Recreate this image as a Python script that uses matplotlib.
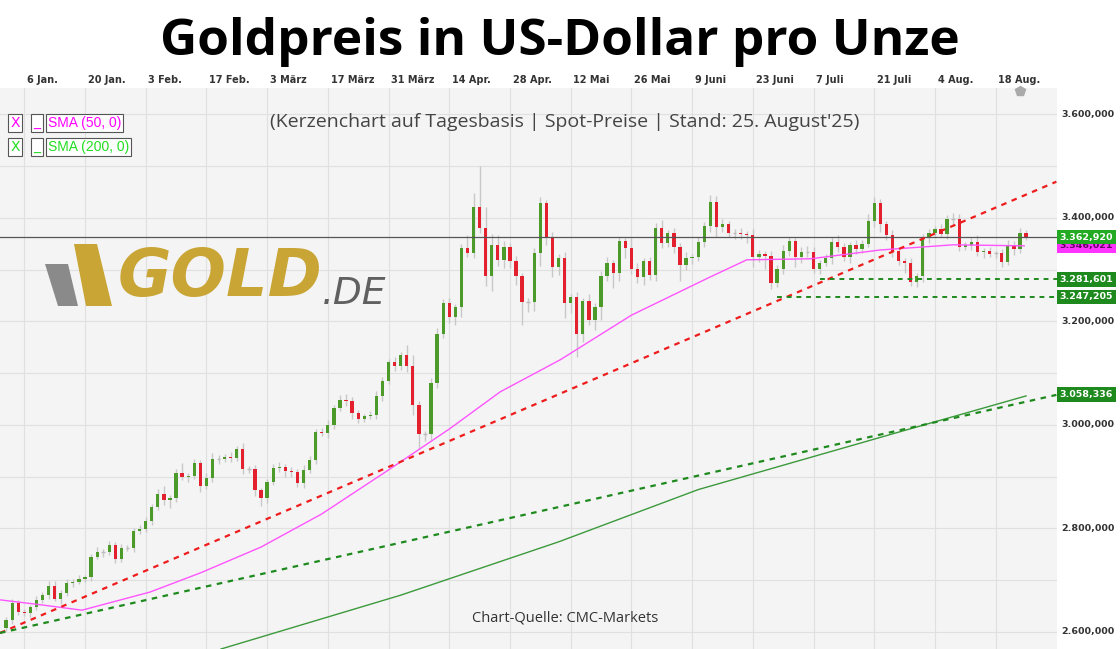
import matplotlib.pyplot as plt
from matplotlib.patches import Polygon, Rectangle
import numpy as np

# daily closes, weekdays 1 Jan - 25 Aug 2025
closes = [
    # Jan
    2623, 2656, 2638, 2636, 2648, 2662, 2672, 2689, 2664, 2675, 2695, 2697,
    2702, 2706, 2745, 2755, 2755, 2768, 2741, 2762, 2762, 2795, 2799,
    # Feb
    2814, 2842, 2867, 2855, 2859, 2907, 2899, 2901, 2927, 2882, 2898, 2934,
    2934, 2938, 2936, 2953, 2915, 2915, 2874, 2859,
    # Mar
    2890, 2917, 2919, 2911, 2909, 2888, 2913, 2932, 2986, 2984, 3000, 3033,
    3048, 3046, 3023, 3011, 3017, 3019, 3056, 3085, 3122,
    # Apr
    3114, 3135, 3114, 3039, 2983, 2983, 3081, 3176, 3236, 3209, 3228, 3342,
    3332, 3421, 3381, 3288, 3348, 3319, 3344, 3317, 3288, 3238,
    # May
    3238, 3332, 3429, 3363, 3305, 3323, 3236, 3247, 3176, 3240, 3203, 3228,
    3288, 3313, 3294, 3356, 3342, 3301, 3286, 3317, 3290, 3381,
    # Jun
    3352, 3371, 3344, 3309, 3323, 3325, 3354, 3385, 3431, 3383, 3388, 3371,
    3371, 3369, 3367, 3325, 3330, 3327, 3274, 3301, 3336,
    # Jul
    3356, 3325, 3334, 3334, 3301, 3313, 3323, 3354, 3344, 3325, 3348, 3340,
    3350, 3394, 3429, 3388, 3367, 3336, 3317, 3313, 3276, 3288, 3362,
    # Aug
    3371, 3379, 3369, 3398, 3398, 3344, 3348, 3354, 3334, 3336, 3331, 3332,
    3315, 3348, 3340, 3371, 3363,
]
first_open = 2608
upper_wick = [
    6, 8, 5, 6, 4, 8, 6, 9, 10, 6, 7, 5, 8, 4, 6, 9, 6, 7, 5, 8, 6, 5, 7,
    8, 6, 10, 14, 5, 7, 20, 6, 8, 5, 10, 12, 8, 6, 10, 7, 12, 5, 8, 4,
    6, 8, 10, 6, 8, 5, 10, 7, 6, 8, 10, 5, 10, 12, 8, 6, 5, 7, 10, 8, 6,
    10, 5, 20, 22, 8, 5, 10, 12, 8, 10, 5, 8, 25, 28, 80, 40, 20, 18, 12, 8, 10, 6,
    8, 10, 12, 6, 10, 8, 12, 5, 10, 6, 12, 8, 10, 12, 6, 8, 5, 20, 12, 6, 8, 10,
    15, 6, 10, 8, 12, 5, 10, 8, 14, 12, 10, 6, 8, 10, 5, 12, 8, 6, 10, 8, 12,
    8, 6, 10, 12, 10, 5, 8, 10, 12, 8, 6, 10, 8, 14, 12, 8, 6, 10, 8, 6, 10, 6, 6,
    8, 6, 10, 8, 12, 10, 6, 8, 12, 6, 8, 5, 8, 10, 8, 10, 5,
]
lower_wick = [
    6, 8, 5, 6, 8, 5, 6, 8, 5, 10, 6, 8, 5, 6, 8, 5, 10, 6, 8, 6, 5, 8, 6,
    5, 8, 6, 10, 15, 8, 6, 10, 6, 12, 5, 8, 10, 6, 8, 5, 10, 8, 12, 16,
    10, 6, 8, 12, 10, 8, 10, 6, 8, 5, 10, 8, 6, 10, 12, 8, 5, 6, 8, 10, 6,
    10, 8, 12, 20, 30, 15, 12, 10, 8, 12, 15, 20, 8, 10, 10, 20, 30, 12, 16, 14, 18, 45,
    20, 18, 25, 16, 20, 15, 30, 20, 45, 15, 10, 20, 25, 10, 30, 15, 20, 10, 12, 15, 10, 12,
    10, 8, 12, 30, 10, 12, 8, 10, 12, 20, 10, 8, 12, 10, 15, 20, 10, 25, 12, 8, 10,
    10, 20, 12, 10, 8, 10, 6, 12, 10, 8, 12, 10, 8, 6, 12, 15, 10, 12, 8, 20, 8, 10, 12,
    10, 8, 6, 10, 12, 8, 6, 10, 8, 12, 6, 8, 10, 6, 12, 8, 6,
]

date_labels = ["6 Jan.", "20 Jan.", "3 Feb.", "17 Feb.", "3 März", "17 März",
               "31 März", "14 Apr.", "28 Apr.", "12 Mai", "26 Mai", "9 Juni",
               "23 Juni", "7 Juli", "21 Juli", "4 Aug.", "18 Aug."]
date_idx = [3 + 10 * k for k in range(len(date_labels))]

# moving averages as drawn (index, value)
sma50_idx = [-1, 6, 12.5, 23.7, 32, 42, 52, 63, 73, 81.4, 91.3, 103, 116, 122, 132.5, 144, 156, 167.7]
sma50_val = [2662, 2652, 2642, 2677, 2714, 2764, 2828, 2913, 2992, 3064, 3126, 3212, 3286, 3319, 3321, 3338, 3348, 3346]
sma200_idx = [35.4, 65, 91, 114, 147, 168]
sma200_val = [2567, 2671, 2774, 2875, 2986, 3056]

# trend lines (start/end index, price)
red_trend = ([-1, 173], [2598, 3470])
green_trend = ([-1, 173], [2598, 3058])
support1 = (134, 3281.601)
support2 = (127, 3247.205)
last_price = 3362.920
sma50_last = 3346.021
sma200_last = 3058.336
y_ticks = [2600, 2800, 3000, 3200, 3400, 3600]


def fmt(v, dec=3):
    s = f"{v:,.{dec}f}"
    return s.replace(",", "X").replace(".", ",").replace("X", ".")


fig = plt.figure(figsize=(11.2, 6.49), dpi=100)
fig.patch.set_facecolor("white")
ax = fig.add_axes([0, 0, 1057 / 1120, 561 / 649])
ax.set_facecolor("#f4f4f4")

n = len(closes)
opens = [first_open] + closes[:-1]
for i in range(n):
    o, c = opens[i], closes[i]
    hi = max(o, c) + upper_wick[i]
    lo = min(o, c) - lower_wick[i]
    col = "#4c9a2a" if c >= o else "#e3202e"
    ax.vlines(i, lo, hi, color="#c8c8c8", lw=1, zorder=2)
    h = abs(c - o)
    if h < 1.5:
        ax.hlines(c, i - 0.3, i + 0.3, color="#bbbbbb", lw=1, zorder=3)
    else:
        ax.add_patch(Rectangle((i - 0.27, min(o, c)), 0.54, h, color=col, lw=0, zorder=3))

ax.plot(sma50_idx, sma50_val, color="#ff55ff", lw=1, zorder=4)
ax.plot(sma200_idx, sma200_val, color="#3c9a3c", lw=1, zorder=4)
ax.plot(*red_trend, color="#ee1c1c", lw=1.6, ls=(0, (2.5, 2.5)), zorder=5)
ax.plot(*green_trend, color="#1e8a1e", lw=1.6, ls=(0, (2.5, 2.5)), zorder=5)
ax.hlines(support1[1], support1[0], 174, color="#1e8a1e", lw=1.4, ls=(0, (2.5, 2.5)), zorder=5)
ax.hlines(support2[1], support2[0], 174, color="#1e8a1e", lw=1.4, ls=(0, (2.5, 2.5)), zorder=5)
ax.axhline(last_price, color="#555555", lw=0.9, zorder=4)

ax.set_xlim(-1, 173.1)
ax.set_ylim(2567, 3651)
ax.set_yticks(y_ticks)
ax.set_yticks(np.arange(2600, 3651, 100), minor=True)
ax.set_xticks(date_idx)
ax.grid(True, which="both", color="#e0e0e0", lw=0.8, zorder=0)
ax.tick_params(length=0, which="both")
ax.set_xticklabels([])
ax.set_yticklabels([])
for s in ax.spines.values():
    s.set_visible(False)

for lab, i in zip(date_labels, date_idx):
    ax.annotate(lab, (i, 1), xycoords=("data", "axes fraction"), xytext=(2, 6),
                textcoords="offset points", fontsize=7, fontweight="bold",
                color="#333333", ha="left", va="center", annotation_clip=False)
for v in y_ticks:
    ax.annotate(fmt(v), (1, v), xycoords=("axes fraction", "data"), xytext=(3, 0),
                textcoords="offset points", fontsize=6.8, fontweight="bold",
                color="#333333", ha="left", va="center", annotation_clip=False)


def box(v, fc, tc="white", dy=0):
    ax.annotate(fmt(v), (1, v), xycoords=("axes fraction", "data"), xytext=(2, dy),
                textcoords="offset points", fontsize=6.8, fontweight="bold",
                color=tc, ha="left", va="center", annotation_clip=False,
                bbox=dict(boxstyle="square,pad=0.3", fc=fc, ec="none"), zorder=10)


box(sma50_last, "#ff33ff", "#660066")
box(last_price, "#22aa22")
box(support1[1], "#1e8a1e")
box(support2[1], "#1e8a1e")
box(sma200_last, "#1e8a1e")

# title and notes
fig.text(0.5, 0.935, "Goldpreis in US-Dollar pro Unze", ha="center", va="center",
         fontsize=37, fontweight="bold", family="Open Sans", color="black")
fig.text(565 / 1120, 1 - 122 / 649, "(Kerzenchart auf Tagesbasis | Spot-Preise | Stand: 25. August'25)",
         ha="center", va="center", fontsize=14, family="Open Sans", color="#444444")
fig.text(565 / 1120, 1 - 618 / 649, "Chart-Quelle: CMC-Markets", ha="center", va="center",
         fontsize=10.5, family="Open Sans", color="#333333")

# SMA legend boxes
for k, (lab, col) in enumerate([("SMA (50, 0)", "#ff00ff"), ("SMA (200, 0)", "#22dd22")]):
    yy = 1 - (123 + 24 * k) / 649
    fig.text(15 / 1120, yy, "X", ha="center", va="center", fontsize=10, color=col,
             bbox=dict(boxstyle="square,pad=0.15", fc="white", ec="#555555", lw=0.8))
    fig.text(37 / 1120, yy, "_", ha="center", va="center", fontsize=10, color=col,
             bbox=dict(boxstyle="square,pad=0.15", fc="white", ec="#555555", lw=0.8))
    fig.text(48 / 1120, yy, lab, ha="left", va="center", fontsize=10, color=col,
             family="Liberation Sans",
             bbox=dict(boxstyle="square,pad=0.15", fc="white", ec="#555555", lw=0.8))

# GOLD.DE logo
H = 649
fig.patches.append(Polygon([(45 / 1120, 1 - 264 / H), (68 / 1120, 1 - 264 / H),
                            (78 / 1120, 1 - 306 / H), (58 / 1120, 1 - 306 / H)],
                           closed=True, transform=fig.transFigure, fc="#8a8a8a", ec="none"))
fig.patches.append(Polygon([(74 / 1120, 1 - 244 / H), (97 / 1120, 1 - 244 / H),
                            (112 / 1120, 1 - 306 / H), (86 / 1120, 1 - 306 / H)],
                           closed=True, transform=fig.transFigure, fc="#c9a535", ec="none"))
fig.text(118 / 1120, 1 - 278 / H, "GOLD", fontsize=47, fontweight="bold", style="italic",
         family="DejaVu Sans", color="#c9a535", va="center", ha="left")
fig.text(322 / 1120, 1 - 294 / H, ".DE", fontsize=27, style="italic", family="DejaVu Sans",
         color="#606060", va="center", ha="left")

# small marker near last date label
ax.plot([167], [3646], marker="p", color="#aaaaaa", ms=7, clip_on=False, zorder=10)

fig.savefig("out.png", dpi=100)
